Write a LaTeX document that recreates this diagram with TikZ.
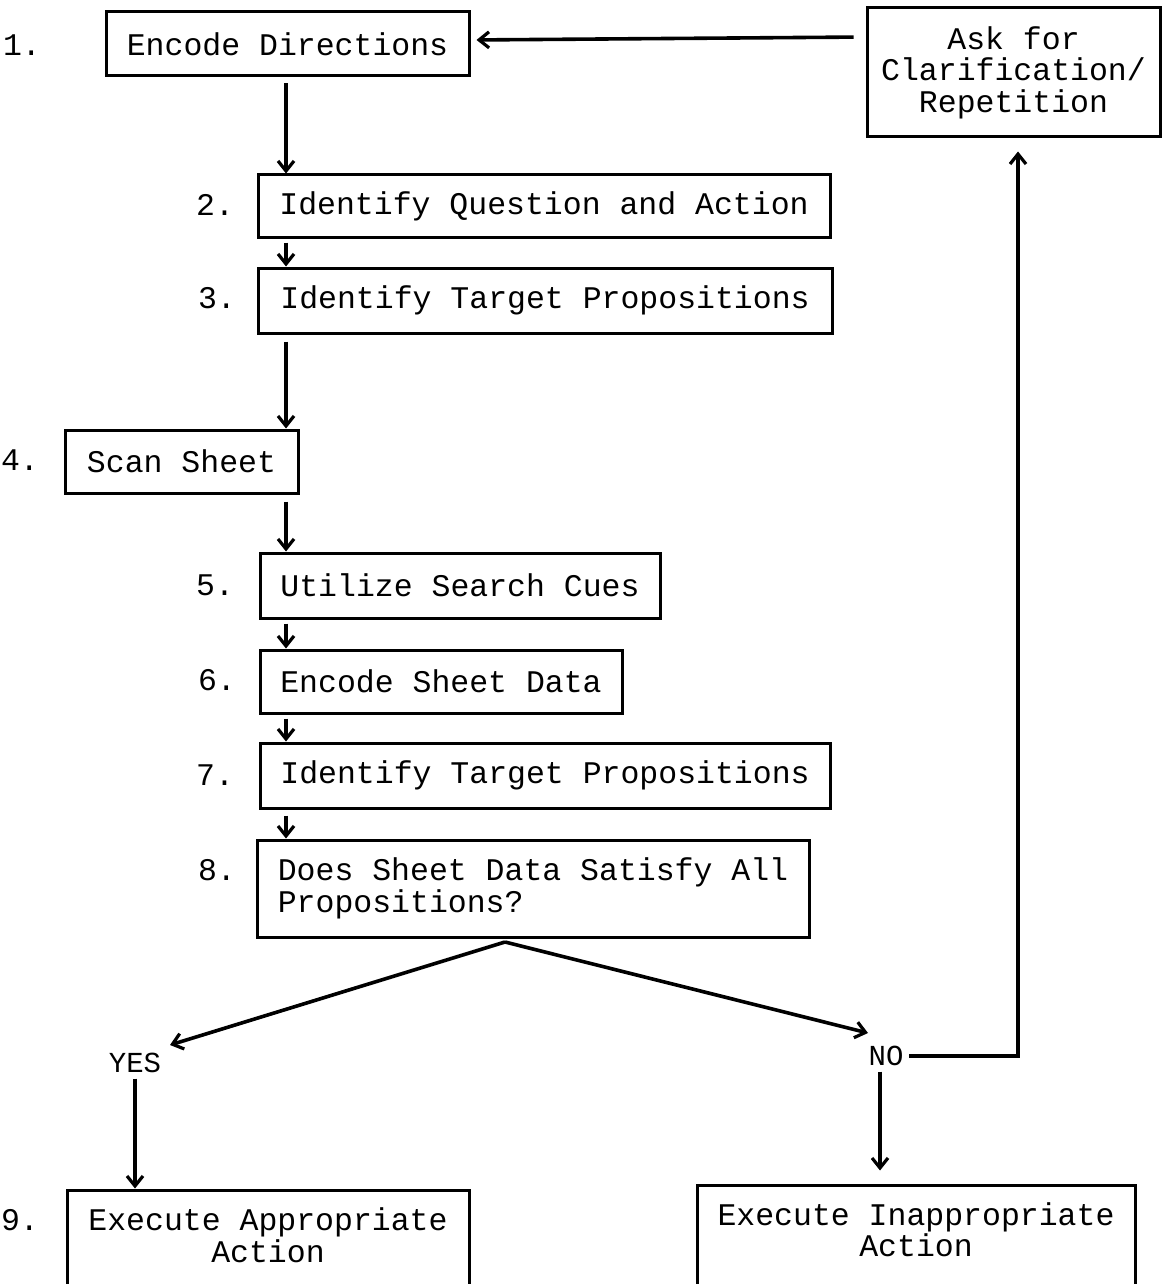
\documentclass[tikz,border=0pt]{standalone}
\usepackage{fontspec}
\setmonofont{Liberation Mono}
\usetikzlibrary{arrows.meta}

\begin{document}
\begin{tikzpicture}[x=1pt, y=-1pt, line width=3.6pt,
	>={Straight Barb[length=10pt, width=16pt, line width=3.2pt]},
	every node/.style={font=\ttfamily\fontsize{31.5}{31.5}\selectfont, inner sep=0pt},
	stepbox/.style={draw, line width=3pt, align=center},
	answer/.style={font=\ttfamily\fontsize{29}{29}\selectfont}]
	\clip (0,0) rectangle (1167,1284);
	\coordinate (spine) at (286,0);

	% steps
	\node[stepbox, minimum width=363pt, minimum height=64pt] at (287.5,44) (D1) {Encode Directions};
	\node[stepbox, minimum width=293pt, minimum height=129pt] at (1013.5,72.5) (ASK) {Ask for\\Clarification/\\Repetition};
	\node[stepbox, minimum width=572pt, minimum height=62pt] at (544,206) (D2) {Identify Question and Action};
	\node[stepbox, minimum width=574pt, minimum height=65pt] at (545,300.5) (D3) {Identify Target Propositions};
	\node[stepbox, minimum width=233pt, minimum height=63pt] at (181.5,461.5) (D4) {Scan Sheet};
	\node[stepbox, minimum width=400pt, minimum height=65pt] at (460,585.5) (D5) {Utilize Search Cues};
	\node[stepbox, minimum width=362pt, minimum height=63pt] at (441,681.5) (D6) {Encode Sheet Data};
	\node[stepbox, minimum width=570pt, minimum height=65pt] at (545,775.5) (D7) {Identify Target Propositions};
	\node[stepbox, minimum width=552pt, minimum height=97pt, align=left] at (533,888.5) (D8) {Does Sheet Data Satisfy All\\Propositions?};
	\node[stepbox, minimum width=402pt, minimum height=122pt] at (268,1251) (D9) {Execute Appropriate\\Action\\\mbox{}};
	\node[stepbox, minimum width=438pt, minimum height=121pt] at (916,1245.5) (D10) {Execute Inappropriate\\Action\\\mbox{}};

	% numbers
	\node at (22,45) (N1) {1.};
	\node at (215,205) (N2) {2.};
	\node at (217,298) (N3) {3.};
	\node at (20,460) (N4) {4.};
	\node at (215,585) (N5) {5.};
	\node at (217,680) (N6) {6.};
	\node at (215,775) (N7) {7.};
	\node at (217,870) (N8) {8.};
	\node at (20,1220) (N9) {9.};

	\node[answer] at (135,1063) (YES) {YES};
	\node[answer] at (886,1056) (NO) {NO};
	\coordinate (fork) at (505,942);

	\draw [->, shorten <=6pt] (D1.south -| spine) -- (D2.north -| spine);
	\draw [->, shorten <=4pt] (D2.south -| spine) -- (D3.north -| spine);
	\draw [->, shorten <=7pt] (D3.south -| spine) -- (D4.north -| spine);
	\draw [->, shorten <=7pt] (D4.south -| spine) -- (D5.north -| spine);
	\draw [->, shorten <=4pt] (D5.south -| spine) -- (D6.north -| spine);
	\draw [->, shorten <=4pt] (D6.south -| spine) -- (D7.north -| spine);
	\draw [->, shorten <=6pt] (D7.south -| spine) -- (D8.north -| spine);

	\draw [->] (fork) -- (170,1045);
	\draw [->] (fork) -- (868,1033);
	\draw [->, shorten <=4pt] (YES.south) -- (YES.south |- D9.north);
	\draw [->, shorten <=4pt, shorten >=13pt] (NO.south -| 880,0) -- (D10.north -| 880,0);
	\draw [->, shorten <=4pt, shorten >=13pt] (NO.east) -| (1018,0 |- ASK.south);
	\draw [->, shorten <=12pt, shorten >=6pt] (ASK.west |- 0,37) -- (D1.east |- 0,40);
\end{tikzpicture}
\end{document}
